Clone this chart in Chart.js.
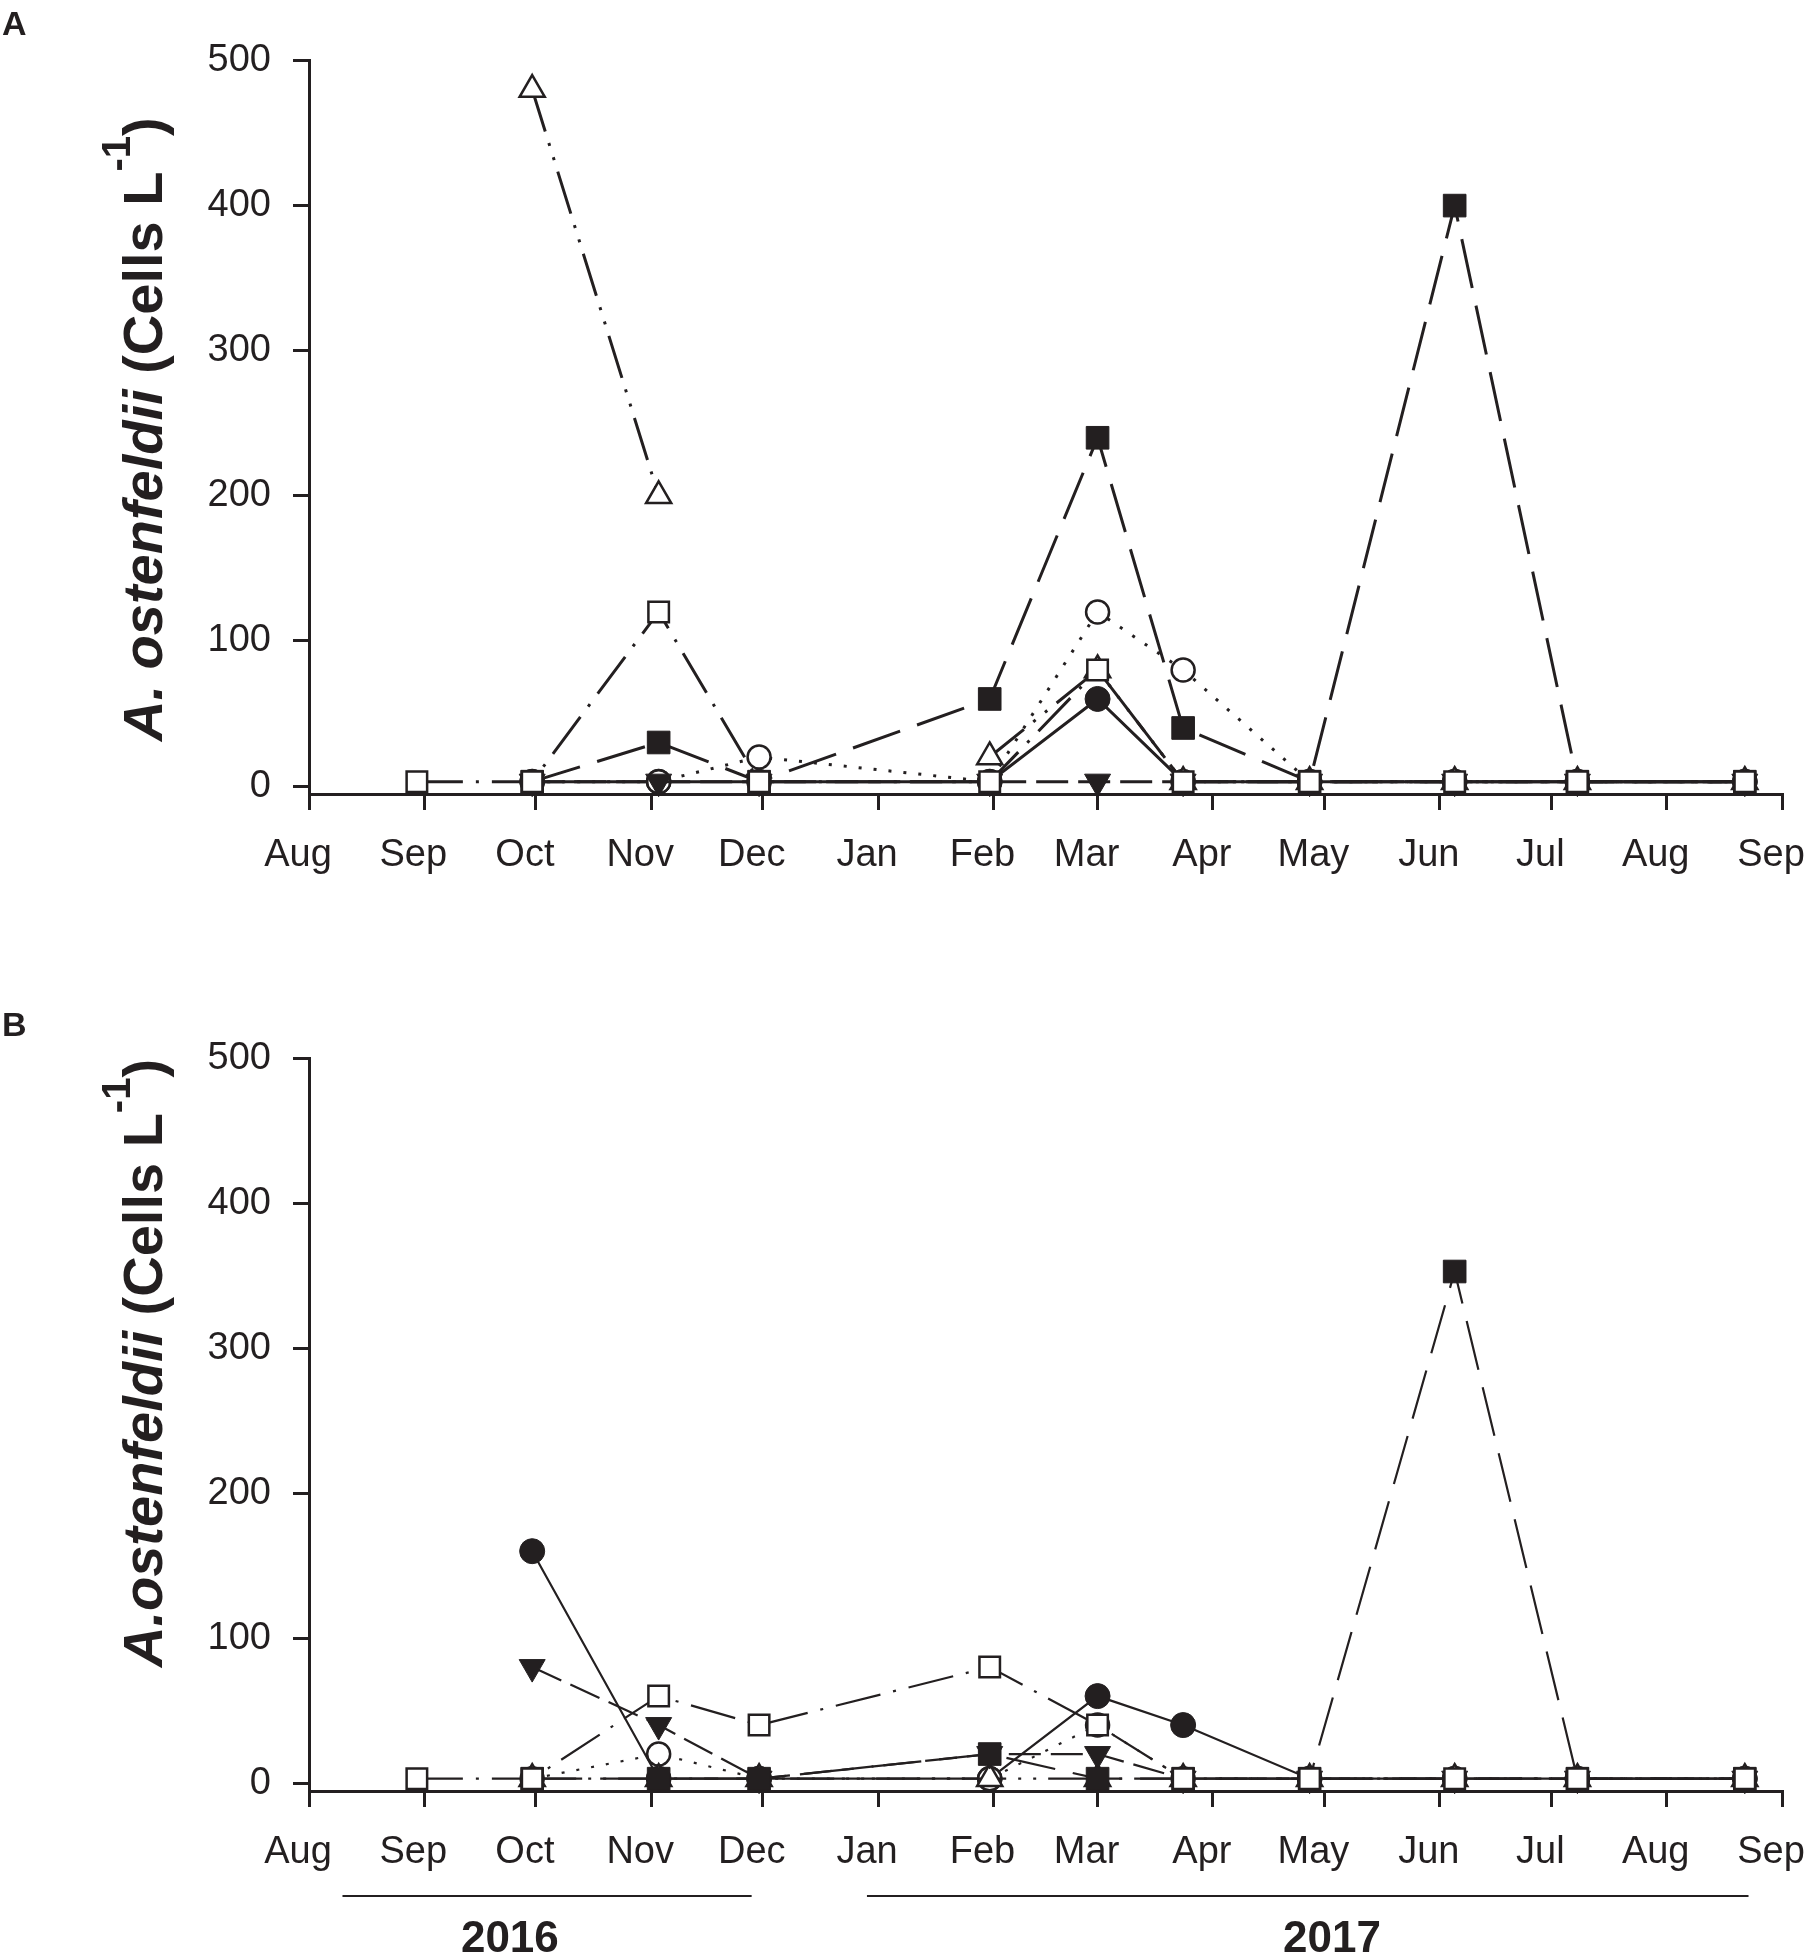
<!DOCTYPE html>
<html>
<head>
<meta charset="utf-8">
<title>A. ostenfeldii cell counts</title>
<script src="https://cdn.jsdelivr.net/npm/chart.js@4.4.1/dist/chart.umd.min.js"></script>
<style>
  body { margin: 0; background: #fff; }
  #wrap { position: relative; width: 1806px; height: 1954px; }
  canvas { position: absolute; left: 0; }
</style>
</head>
<body>
<div id="wrap">
  <canvas id="chartA" width="1806" height="980" style="top:0"></canvas>
  <canvas id="chartB" width="1806" height="974" style="top:980px"></canvas>
</div>
<script>
// sampling dates, as days counted from 1 Aug 2016
const sampleDays = [29, 60, 94, 121, 183, 212, 235, 269, 308, 341, 386];
// month boundaries (days from 1 Aug 2016) and their labels
const monthStarts = [0, 31, 61, 92, 122, 153, 184, 212, 243, 273, 304, 334, 365, 396];
const monthLabels = ['Aug', 'Sep', 'Oct', 'Nov', 'Dec', 'Jan', 'Feb', 'Mar', 'Apr', 'May', 'Jun', 'Jul', 'Aug', 'Sep'];
const yTicks = [0, 100, 200, 300, 400, 500];

// panel A (cells per litre)
const aOpenSquare   = [3, 3, 120, 3, 3, 80, 3, 3, 3, 3, 3];
const aFilledSquare = [null, 3, 30, 3, 60, 240, 40, 3, 400, 3, 3];
const aInvTriangle  = [null, 3, 3, 3, 3, 3, 3, 3, 3, 3, 3];
const aOpenTriangle = [null, 480, 200, null, 20, 80, 3, 3, 3, 3, 3];
const aOpenCircle   = [null, 3, 3, 20, 3, 120, 80, 3, 3, 3, 3];
const aFilledCircle = [null, 3, 3, 3, 3, 60, 3, 3, 3, 3, 3];

// panel B (cells per litre)
const bOpenSquare   = [3, 3, 60, 40, 80, 40, 3, 3, 3, 3, 3];
const bFilledSquare = [null, 3, 3, 3, 20, 3, 3, 3, 353, 3, 3];
const bInvTriangle  = [null, 80, 40, 3, 20, 20, 3, 3, 3, 3, 3];
const bOpenTriangle = [null, 3, 3, 3, 3, 3, 3, 3, 3, 3, 3];
const bOpenCircle   = [null, 3, 20, 3, 3, 40, 3, 3, 3, 3, 3];
const bFilledCircle = [null, 160, 3, 3, 3, 60, 40, 3, 3, 3, 3];

const ink = '#231f20';
const family = '"Liberation Sans", Arial, Helvetica, sans-serif';
Chart.defaults.font.family = family;
Chart.defaults.color = ink;

// marker + line look of each series, top-most first
const looks = [
  { style: 'rect',     radius: 14.5, rot: 0, bg: '#fff', bw: 2.5, dash: [46, 13, 3, 13] },
  { style: 'rect',     radius: 16, rot: 0,   bg: ink,    bw: 1,   dash: [50, 18] },
  { style: 'triangle', radius: 15, rot: 180, bg: ink,    bw: 1,   dash: [32, 10] },
  { style: 'triangle', radius: 14.5, rot: 0, bg: '#fff', bw: 2.5, dash: [44, 12, 3, 12, 3, 12] },
  { style: 'circle',   radius: 11.5, rot: 0, bg: '#fff', bw: 2.5, dash: [3, 12] },
  { style: 'circle',   radius: 12.5, rot: 0, bg: ink,    bw: 1,   dash: [] }
];

function makeDatasets(seriesList, lineWidth) {
  return seriesList.map((vals, i) => {
    const lk = looks[i];
    return {
      data: vals.map((v, j) => ({ x: sampleDays[j], y: v })),
      borderColor: ink,
      borderWidth: lineWidth,
      borderDash: lk.dash,
      tension: 0,
      spanGaps: false,
      clip: false,
      pointStyle: lk.style,
      pointRadius: lk.radius,
      pointRotation: lk.rot,
      pointBackgroundColor: lk.bg,
      pointBorderColor: ink,
      pointBorderWidth: lk.bw,
      pointHoverRadius: lk.radius
    };
  });
}

function annotations(cfg) {
  return {
    id: 'annot' + cfg.letter,
    afterDraw(chart) {
      const ctx = chart.ctx;
      ctx.save();
      ctx.fillStyle = ink;
      ctx.textAlign = 'left';
      ctx.textBaseline = 'alphabetic';
      ctx.font = 'bold 34px ' + family;
      ctx.fillText(cfg.letter, 2, cfg.letterY);

      // rotated axis title with italic species name and superscript
      ctx.save();
      ctx.translate(cfg.titleX, cfg.titleY);
      ctx.rotate(-Math.PI / 2);
      const parts = [
        { text: cfg.species, font: 'italic bold 56px ' + family, rise: 0 },
        { text: ' (Cells L', font: 'bold 56px ' + family, rise: 0 },
        { text: '-1', font: 'bold 40px ' + family, rise: 32 },
        { text: ')', font: 'bold 56px ' + family, rise: 0 }
      ];
      let x = 0;
      parts.forEach(p => {
        ctx.font = p.font;
        ctx.fillText(p.text, x, -p.rise);
        x += ctx.measureText(p.text).width;
      });
      ctx.restore();

      if (cfg.years) {
        const xs = chart.scales.x;
        ctx.strokeStyle = ink;
        ctx.lineWidth = 2;
        ctx.textAlign = 'center';
        ctx.font = 'bold 44px ' + family;
        cfg.years.forEach(y => {
          ctx.beginPath();
          ctx.moveTo(xs.getPixelForValue(y.from), cfg.yearLineY);
          ctx.lineTo(xs.getPixelForValue(y.to), cfg.yearLineY);
          ctx.stroke();
          ctx.fillText(y.label, xs.getPixelForValue(y.mid), cfg.yearTextY);
        });
      }
      ctx.restore();
    }
  };
}

function axisCommon() {
  return {
    grid: { drawOnChartArea: false, drawTicks: true, tickLength: 16, color: ink, lineWidth: 3 },
    border: { display: true, color: ink, width: 3 }
  };
}

function buildChart(id, seriesList, lineWidth, canvasH, areaTop, areaBottom, cfg) {
  return new Chart(document.getElementById(id), {
    type: 'line',
    data: { datasets: makeDatasets(seriesList, lineWidth) },
    options: {
      responsive: false,
      animation: false,
      events: [],
      layout: { padding: { top: areaTop, right: 24, left: 0, bottom: 0 } },
      plugins: { legend: { display: false }, tooltip: { enabled: false } },
      scales: {
        x: Object.assign(axisCommon(), {
          type: 'linear',
          min: 0,
          max: 396,
          afterBuildTicks: s => { s.ticks = monthStarts.map(v => ({ value: v })); },
          afterFit: s => { s.height = canvasH - areaBottom; s.paddingLeft = 0; s.paddingRight = 0; },
          ticks: {
            autoSkip: false, maxRotation: 0, minRotation: 0,
            labelOffset: -11, padding: 23,
            font: { size: 38 }, color: ink,
            callback: (v, i) => monthLabels[i]
          }
        }),
        y: Object.assign(axisCommon(), {
          type: 'linear',
          min: -5.5,
          max: 500,
          afterBuildTicks: s => { s.ticks = yTicks.map(v => ({ value: v })); },
          afterFit: s => { s.width = 309; s.paddingTop = 0; s.paddingBottom = 0; },
          ticks: { font: { size: 38 }, color: ink, padding: 22, callback: v => String(v) }
        })
      }
    },
    plugins: [annotations(cfg)]
  });
}

buildChart('chartA',
  [aOpenSquare, aFilledSquare, aInvTriangle, aOpenTriangle, aOpenCircle, aFilledCircle],
  3, 980, 60.5, 794,
  { letter: 'A', letterY: 35, species: 'A. ostenfeldii', titleX: 162, titleY: 741 });

buildChart('chartB',
  [bOpenSquare, bFilledSquare, bInvTriangle, bOpenTriangle, bOpenCircle, bFilledCircle],
  2.2, 974, 78.5, 811,
  { letter: 'B', letterY: 56, species: 'A.ostenfeldii', titleX: 162, titleY: 687,
    yearLineY: 916, yearTextY: 972,
    years: [
      { label: '2016', from: 9, to: 119, mid: 54 },
      { label: '2017', from: 150, to: 387, mid: 275 }
    ] });
</script>
</body>
</html>
